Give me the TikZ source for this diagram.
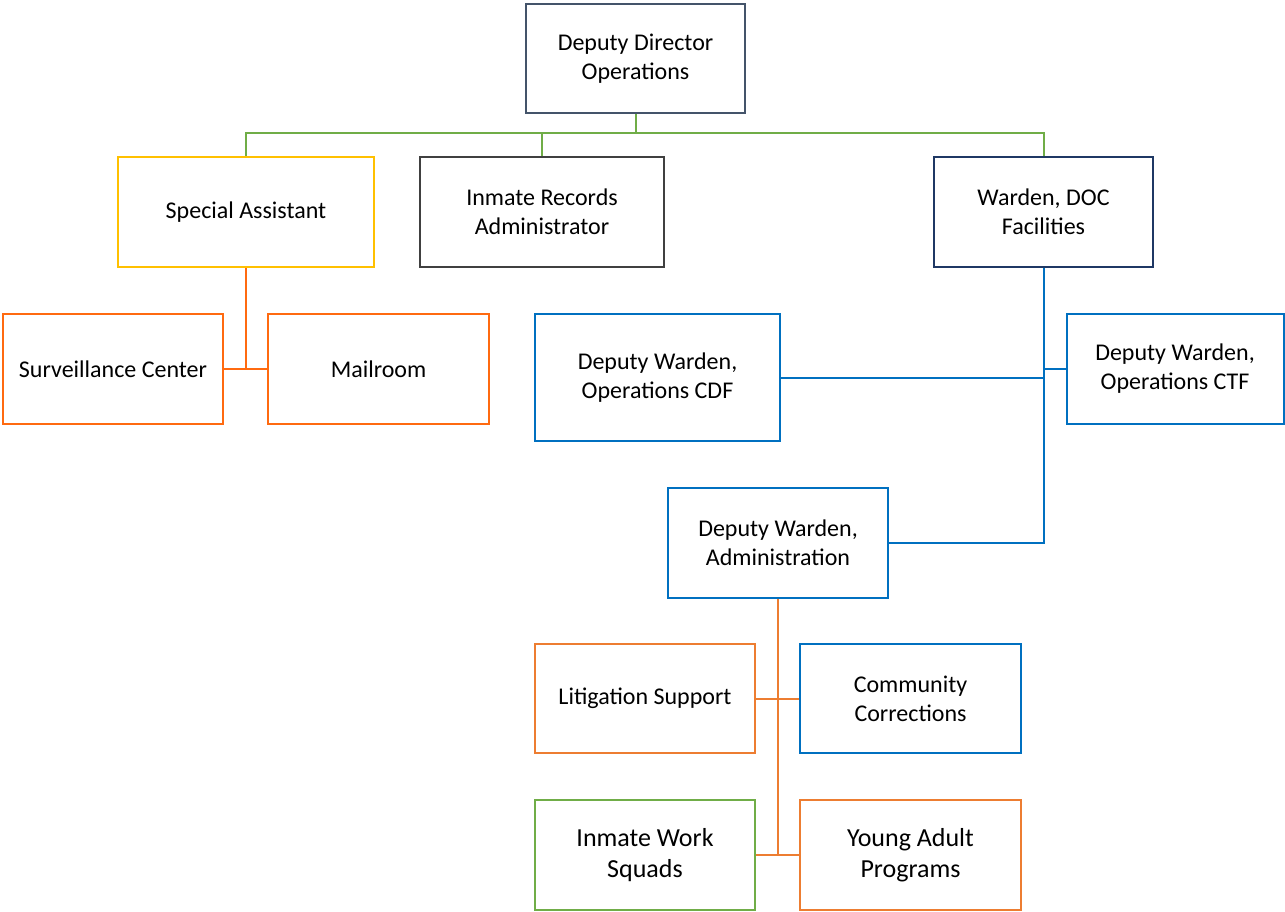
\documentclass[tikz,border=0pt]{standalone}
\usepackage{fontspec}
\setmainfont{Carlito}
\definecolor{cslate}{HTML}{44546A}
\definecolor{cgold}{HTML}{FFC000}
\definecolor{cgray}{HTML}{404040}
\definecolor{cnavy}{HTML}{1F3864}
\definecolor{corangeB}{HTML}{FF6A10}
\definecolor{corange}{HTML}{ED7D31}
\definecolor{cblue}{HTML}{0070C0}
\definecolor{cgreen}{HTML}{70AD47}
\tikzset{
  box/.style={draw, line width=2pt, fill=white, inner sep=0pt, align=center, text=black,
    font=\fontsize{24}{29}\selectfont},
  bigbox/.style={box, font=\fontsize{26}{31}\selectfont},
  link/.style={line width=2pt},
}
\begin{document}
\begin{tikzpicture}[x=1pt,y=-1pt]
\useasboundingbox (0,0) rectangle (1285,912);
% nodes
\node[box, draw=cslate, minimum width=219pt, minimum height=109pt] (dd) at (635.5,58.5) {Deputy Director\\Operations};
\node[box, draw=cgold, minimum width=256pt, minimum height=110pt] (sa) at (246,212) {Special Assistant};
\node[box, draw=cgray, minimum width=244pt, minimum height=110pt] (ira) at (542,212) {Inmate Records\\Administrator};
\node[box, draw=cnavy, minimum width=219pt, minimum height=110pt] (wd) at (1043.5,212) {Warden, DOC\\Facilities};
\node[box, draw=corangeB, minimum width=220pt, minimum height=110pt] (sc) at (113,369) {Surveillance Center};
\node[box, draw=corangeB, minimum width=221pt, minimum height=110pt] (mr) at (378.5,369) {Mailroom};
\node[box, draw=cblue, minimum width=245pt, minimum height=127pt] (cdf) at (657.5,377.5) {Deputy Warden,\\Operations CDF};
\node[box, draw=cblue, minimum width=217pt, minimum height=110pt] (ctf) at (1175,369) {Deputy Warden,\\Operations CTF};
\node[box, draw=cblue, minimum width=220pt, minimum height=110pt] (adm) at (778,543) {Deputy Warden,\\Administration};
\node[box, draw=corange, minimum width=220pt, minimum height=109pt] (lit) at (645,698.5) {Litigation Support};
\node[box, draw=cblue, minimum width=221pt, minimum height=109pt] (cc) at (910.5,698.5) {Community\\Corrections};
\node[bigbox, draw=cgreen, minimum width=220pt, minimum height=110pt] (iws) at (645,855) {Inmate Work\\Squads};
\node[bigbox, draw=corange, minimum width=221pt, minimum height=110pt] (yap) at (910.5,855) {Young Adult\\Programs};
% connectors
\coordinate (gbus) at (0,133);
\draw[link, cgreen] (dd.south) -- (dd.south |- gbus);
\draw[link, cgreen] (sa.north) -- (sa.north |- gbus) -| (wd.north);
\draw[link, cgreen] (ira.north) -- (ira.north |- gbus);
\draw[link, corangeB] (sa.south) -- (sa.south |- sc.east);
\draw[link, corangeB] (sc.east) -- (mr.west);
\draw[link, cblue] (wd.south) -- (wd.south |- adm.east) -- (adm.east);
\draw[link, cblue] (ctf.west) -- (ctf.west -| wd.south);
\draw[link, cblue] (cdf.east) -- (cdf.east -| wd.south);
\draw[link, corange] (adm.south) -- (adm.south |- iws.east);
\draw[link, corange] (lit.east) -- (cc.west);
\draw[link, corange] (iws.east) -- (yap.west);
\end{tikzpicture}
\end{document}
